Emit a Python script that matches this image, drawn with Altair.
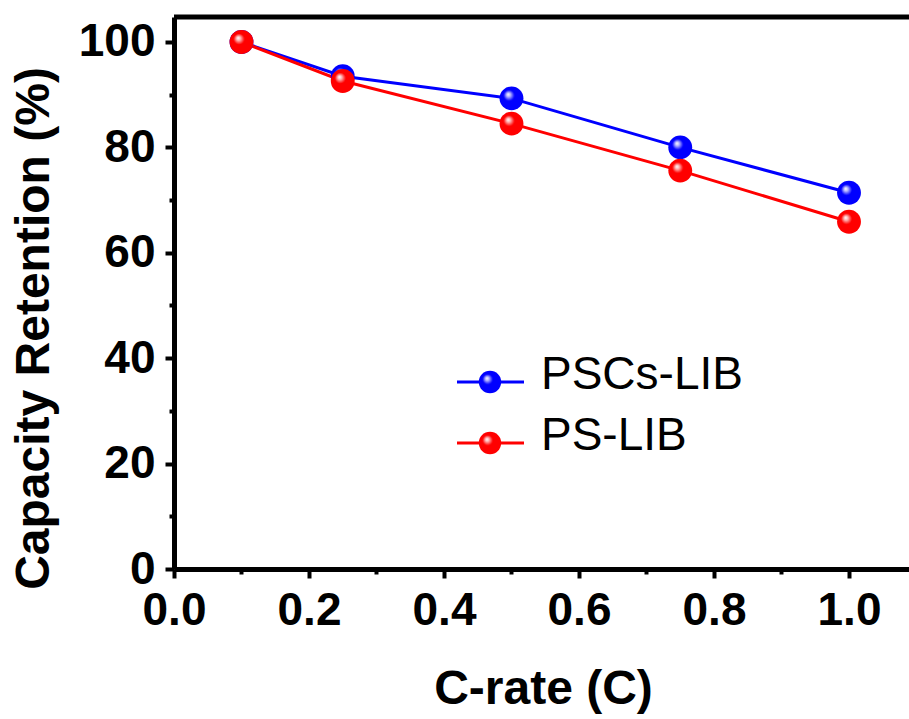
import altair as alt
import pandas as pd

# ---- data ----
c_rate = [0.1, 0.25, 0.5, 0.75, 1.0]
pscs_lib = [100.0, 93.5, 89.3, 80.0, 71.4]
ps_lib = [100.0, 92.6, 84.5, 75.6, 65.9]
series_names = ["PSCs-LIB", "PS-LIB"]
series_colors = ["#0000ff", "#ff0000"]
series_light = ["#b8b8ff", "#ffb8b8"]
x_tick_values = [0.0, 0.1, 0.2, 0.3, 0.4, 0.5, 0.6, 0.7, 0.8, 0.9, 1.0]
y_tick_values = [0, 10, 20, 30, 40, 50, 60, 70, 80, 90, 100]

X_MAX = 1.0889
Y_MAX = 104.74
W, H = 735, 552
FONT = "Liberation Sans"

df = pd.DataFrame({
    "c_rate": c_rate * 2,
    "retention": pscs_lib + ps_lib,
    "series": [series_names[0]] * len(c_rate) + [series_names[1]] * len(c_rate),
})

x_enc = alt.X(
    "c_rate:Q",
    scale=alt.Scale(domain=[0, X_MAX], nice=False, zero=False),
    axis=alt.Axis(
        values=x_tick_values,
        labelExpr="round(datum.value*10) % 2 === 0 ? format(datum.value, '.1f') : ''",
        tickSize={"condition": {"test": "round(datum.value*10) % 2 !== 0", "value": 5}, "value": 9},
        title="C-rate (C)",
        titleX=369, titleY=134, titleAlign="center", titleBaseline="alphabetic",
        grid=False,
    ),
)
y_enc = alt.Y(
    "retention:Q",
    scale=alt.Scale(domain=[0, Y_MAX], nice=False),
    axis=alt.Axis(
        values=y_tick_values,
        labelExpr="datum.value % 20 === 0 ? datum.label : ''",
        tickSize={"condition": {"test": "datum.value % 20 !== 0", "value": 5}, "value": 9},
        title="Capacity Retention (%)",
        titleX=-126, titleY=311, titleAlign="center", titleBaseline="alphabetic", titleAngle=270,
        grid=False,
    ),
)


def sphere(light, base):
    return alt.RadialGradient(
        gradient="radial",
        x1=0.36, y1=0.33, r1=0.0,
        x2=0.45, y2=0.45, r2=0.55,
        stops=[
            alt.GradientStop(offset=0.0, color="#ffffff"),
            alt.GradientStop(offset=0.15, color=light),
            alt.GradientStop(offset=0.42, color=base),
            alt.GradientStop(offset=1.0, color=base),
        ],
    )


base = alt.Chart(df)
layers = []
for name, col in zip(series_names, series_colors):
    layers.append(
        base.transform_filter(alt.datum.series == name)
        .mark_line(color=col, strokeWidth=3)
        .encode(x=x_enc, y=y_enc)
    )
for name, col, light in zip(series_names, series_colors, series_light):
    layers.append(
        base.transform_filter(alt.datum.series == name)
        .mark_circle(size=570, fill=sphere(light, col), opacity=1, strokeWidth=0)
        .encode(x=x_enc, y=y_enc)
    )

# top frame line
layers.append(
    alt.Chart(pd.DataFrame({"a": [0]}))
    .mark_rule(color="black", strokeWidth=5)
    .encode(x=alt.value(0), x2=alt.value(W), y=alt.value(0))
)

# manual legend
leg_y = [365, 426]
for name, col, light, yy in zip(series_names, series_colors, series_light, leg_y):
    ldf = pd.DataFrame({"label": [name]})
    lc = alt.Chart(ldf)
    layers.append(
        lc.mark_rule(color=col, strokeWidth=3)
        .encode(x=alt.value(283), x2=alt.value(350), y=alt.value(yy))
    )
    layers.append(
        lc.mark_circle(size=500, fill=sphere(light, col), opacity=1, strokeWidth=0)
        .encode(x=alt.value(316), y=alt.value(yy))
    )
    layers.append(
        lc.mark_text(font=FONT, fontSize=46, align="left", baseline="alphabetic", color="black")
        .encode(x=alt.value(367), y=alt.value(yy + 7), text="label:N")
    )

chart = (
    alt.layer(*layers)
    .properties(
        width=W,
        height=H,
        autosize=alt.AutoSizeParams(type="none"),
        padding={"left": 174, "top": 17, "right": 0, "bottom": 150},
        background="white",
    )
    .configure_view(stroke=None)
    .configure_axis(
        domainColor="black",
        domainWidth=5,
        tickColor="black",
        tickWidth=4,
        labelFont=FONT,
        labelFontSize=46,
        labelFontWeight="bold",
        labelColor="black",
        titleFont=FONT,
        titleFontSize=48,
        titleFontWeight="bold",
        titleColor="black",
    )
    .configure_axisX(labelPadding=10, labelFlush=False, labelOverlap=False)
    .configure_axisY(labelPadding=10, labelOverlap=False)
)

chart.save("out.html", embed_options={"renderer": "svg", "actions": False})
